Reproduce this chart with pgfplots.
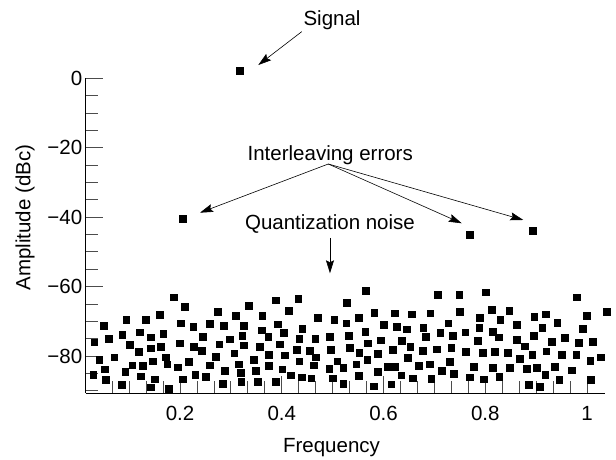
\documentclass[border=0pt]{standalone}
\usepackage{fontspec}
\setmainfont{Liberation Sans}
\usepackage{pgfplots}
\pgfplotsset{compat=1.18}
\usetikzlibrary{arrows.meta}
\pgfplotstableread{
x y
0.1869 -63.10
0.2092 -65.79
0.1600 -68.10
0.0945 -69.63
0.1332 -69.63
0.0500 -71.36
0.2020 -70.59
0.2262 -71.56
0.2590 -70.79
0.0866 -73.86
0.1201 -73.19
0.1672 -73.57
0.0598 -75.11
0.1417 -74.63
0.2452 -74.53
0.0316 -76.07
0.1011 -76.74
0.2000 -76.36
0.2275 -77.32
0.1181 -78.76
0.1423 -77.80
0.1627 -77.41
0.2426 -78.47
0.0414 -81.16
0.0709 -80.39
0.1718 -80.39
0.1063 -82.69
0.1266 -82.79
0.1463 -81.54
0.1751 -82.41
0.1948 -83.27
0.2177 -81.64
0.2577 -82.69
0.0519 -83.85
0.0925 -84.62
0.0296 -85.48
0.1233 -85.86
0.2301 -85.48
0.2511 -85.96
0.0539 -86.92
0.1509 -86.73
0.2052 -86.73
0.0853 -88.36
0.1423 -89.03
0.1777 -89.51
0.2740 -67.23
0.3356 -65.50
0.3880 -63.97
0.4326 -63.58
0.4136 -67.04
0.3094 -68.48
0.3618 -68.48
0.4705 -69.06
0.5033 -69.63
0.2858 -71.36
0.3258 -71.36
0.3919 -70.88
0.4404 -72.23
0.3611 -72.61
0.3225 -74.15
0.3736 -74.44
0.4037 -73.38
0.2976 -75.20
0.4345 -75.11
0.4659 -75.11
0.4947 -74.44
0.2773 -76.64
0.3251 -76.93
0.3572 -77.32
0.3958 -76.64
0.4299 -78.18
0.4548 -78.56
0.4967 -78.28
0.2700 -80.29
0.3068 -79.24
0.3448 -81.06
0.3749 -79.62
0.4064 -79.81
0.4672 -80.39
0.3147 -82.41
0.3749 -82.89
0.4345 -81.54
0.5092 -81.54
0.2878 -84.23
0.3186 -84.81
0.3487 -84.23
0.4011 -83.85
0.4633 -82.69
0.4935 -83.65
0.5210 -83.37
0.4181 -85.57
0.4391 -86.15
0.4581 -86.44
0.5000 -86.44
0.2839 -87.98
0.3205 -87.50
0.3533 -87.40
0.3887 -87.50
0.5210 -88.07
0.5656 -61.28
0.5276 -64.74
0.7071 -62.43
0.7490 -62.43
0.5820 -67.52
0.6226 -67.71
0.6553 -68.00
0.6920 -67.71
0.7496 -67.23
0.5512 -69.06
0.5269 -70.59
0.5997 -71.07
0.6259 -71.65
0.6462 -72.32
0.6783 -71.84
0.7274 -70.59
0.5315 -74.15
0.5643 -73.09
0.5944 -75.49
0.6363 -75.68
0.6835 -74.44
0.7116 -73.38
0.7359 -74.24
0.7608 -73.19
0.5335 -77.60
0.5695 -76.36
0.5525 -79.04
0.5892 -79.43
0.6187 -78.28
0.6527 -77.32
0.6776 -78.47
0.7045 -78.08
0.7333 -77.70
0.7621 -78.76
0.5466 -82.41
0.5682 -81.16
0.6481 -80.58
0.6082 -83.17
0.6219 -83.17
0.6691 -82.89
0.6907 -82.41
0.7300 -81.64
0.7778 -83.17
0.5512 -85.77
0.5892 -84.61
0.6350 -85.57
0.7143 -84.33
0.7385 -85.09
0.6573 -86.44
0.6940 -86.63
0.7693 -86.15
0.5807 -88.74
0.6154 -88.17
0.8015 -61.66
0.9796 -63.10
0.8133 -66.75
0.8473 -67.04
0.7897 -68.96
0.8296 -69.63
0.8965 -68.67
0.9187 -68.00
0.9993 -68.48
1.0386 -67.33
0.7884 -71.84
0.8152 -72.99
0.8617 -71.07
0.9122 -71.84
0.9417 -70.40
0.9921 -72.23
0.7857 -75.68
0.8270 -74.63
0.8617 -75.30
0.8958 -74.24
0.8781 -77.22
0.9312 -75.97
0.9567 -74.72
0.9836 -76.16
1.0111 -75.97
0.7956 -79.14
0.8179 -78.76
0.8441 -79.14
0.8683 -80.87
0.8925 -79.72
0.9200 -78.66
0.9502 -79.72
0.9790 -79.62
1.0065 -81.35
1.0268 -80.39
0.8146 -83.37
0.8486 -83.37
0.8820 -83.65
0.9017 -83.46
0.9371 -83.08
0.9698 -84.13
0.7976 -86.73
0.8277 -85.96
0.9181 -85.48
0.9456 -86.92
1.0078 -86.92
0.8860 -88.26
0.9076 -88.84
}\noise
\pgfplotstableread{
x y
0.3180 2.10
0.2053 -40.54
0.7700 -45.15
0.8932 -43.90
}\peaks
\begin{document}
\begin{tikzpicture}[font=\fontsize{20.5}{24}\selectfont]
\useasboundingbox (0pt,0pt) rectangle (616pt,460pt);
\begin{axis}[
  at={(85.7pt,67pt)}, anchor=south west,
  scale only axis, width=519.3pt, height=314.7pt,
  xmin=0.0146, xmax=1.0354, ymin=-90.67, ymax=0,
  axis x line*=bottom, axis y line*=left,
  axis line style={line width=0.9pt, black},
  tick align=inside,
  major tick length=17pt, minor tick length=12pt,
  tick style={line width=0.8pt, black!70},
  xtick={0.2,0.4,0.6,0.8,1},
  xticklabels={0.2,0.4,0.6,0.8,1},
  minor xtick={0.0667,0.1,0.1333,0.1667,0.2333,0.2667,0.3,0.3333,0.3667,0.4333,0.4667,0.5,0.5333,0.5667,0.6333,0.6667,0.7,0.7333,0.7667,0.8333,0.8667,0.9,0.9333,0.9667},
  ytick={-80,-60,-40,-20,0},
  yticklabels={−80,−60,−40,−20,0},
  minor ytick={-90,-85,-75,-70,-65,-55,-50,-45,-35,-30,-25,-15,-10,-5},
  ticklabel style={font=\fontsize{20.5}{24}\selectfont},
  xticklabel style={yshift=-10pt},
  xlabel={Frequency},
  ylabel={Amplitude (dBc)},
  xlabel style={at={(axis description cs:0.4733,-0.172)}, anchor=center},
  ylabel style={at={(axis description cs:-0.1169,0.5577)}, anchor=center, rotate=0},
  clip=false,
]
\addplot[only marks, mark=square*, mark size=3.35pt, black] table[x=x,y=y] {\noise};
\addplot[only marks, mark=square*, mark size=3.35pt, black] table[x=x,y=y] {\peaks};
\node at (axis cs:0.4988,16.8) {Signal};
\draw[-{Stealth[length=13pt,width=8pt,inset=2pt]}, line width=0.6pt] (axis cs:0.4392,13.43) -- (axis cs:0.3539,3.83);
\node at (axis cs:0.4953,-22.10) {Interleaving errors};
\draw[-{Stealth[length=13pt,width=8pt,inset=2pt]}, line width=0.6pt] (axis cs:0.4915,-24.69) -- (axis cs:0.2393,-38.72);
\draw[-{Stealth[length=13pt,width=8pt,inset=2pt]}, line width=0.6pt] (axis cs:0.4915,-24.69) -- (axis cs:0.7537,-41.77);
\draw[-{Stealth[length=13pt,width=8pt,inset=2pt]}, line width=0.6pt] (axis cs:0.4915,-24.69) -- (axis cs:0.8748,-40.82);
\node at (axis cs:0.4948,-42.0) {Quantization noise};
\draw[-{Stealth[length=13pt,width=8pt,inset=2pt]}, line width=0.6pt] (axis cs:0.4948,-46.01) -- (axis cs:0.4948,-56.18);
\end{axis}
\end{tikzpicture}
\end{document}
